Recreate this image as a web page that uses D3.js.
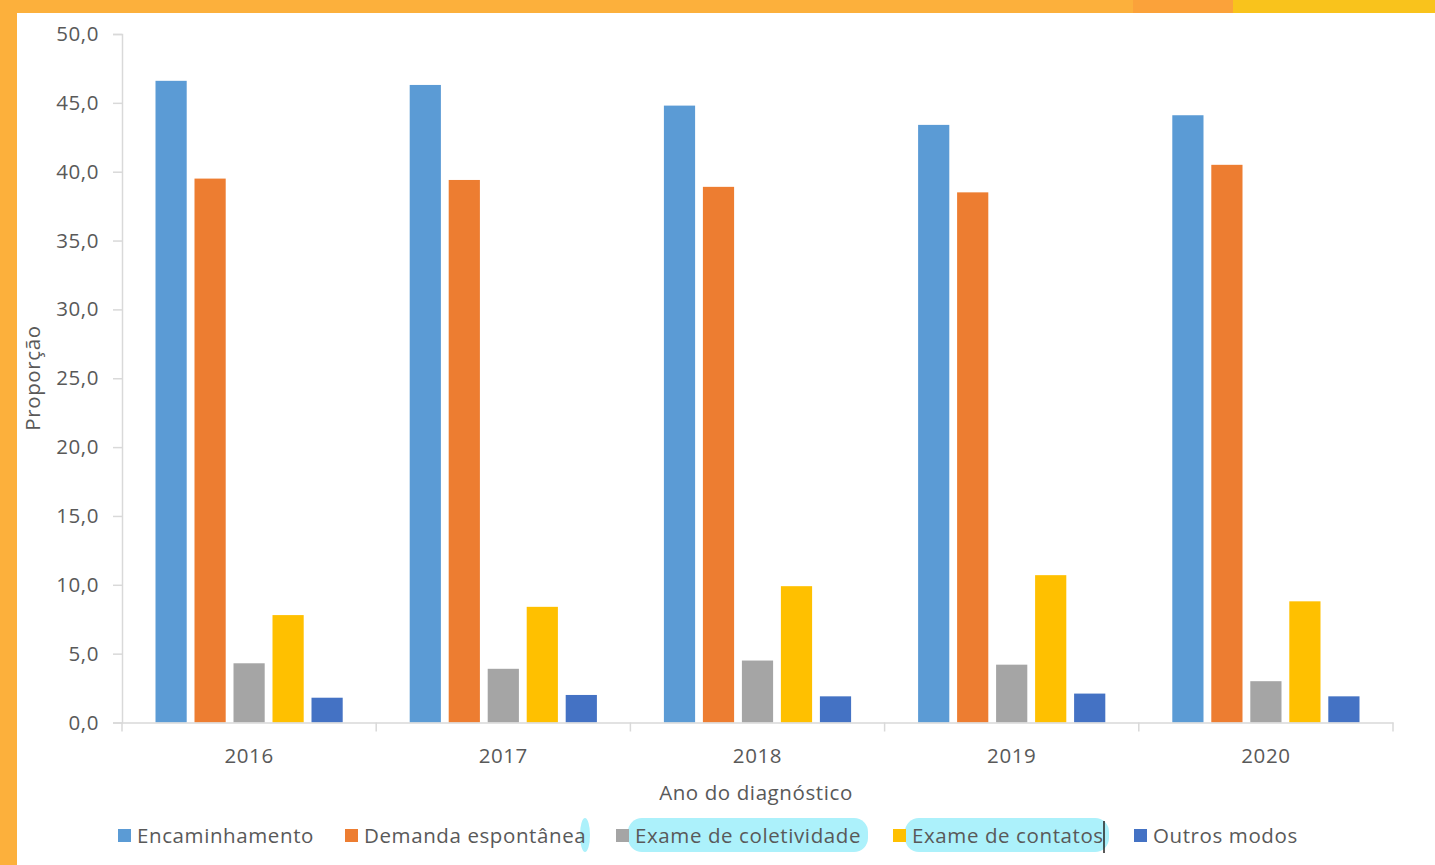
<!DOCTYPE html>
<html>
<head>
<meta charset="utf-8">
<script src="https://cdn.jsdelivr.net/npm/d3@7"></script>
<style>
  body { margin: 0; background: #fff; }
  svg text { font-family: "Open Sans", sans-serif; fill: #595959; font-size: 20.5px; letter-spacing: 0.6px; font-weight: 500; }
</style>
</head>
<body>
<span></span>
<script>
let width = 1435;
let height = 865;

// dados
let years = ["2016", "2017", "2018", "2019", "2020"];
let series = ["Encaminhamento", "Demanda espontânea", "Exame de coletividade", "Exame de contatos", "Outros modos"];
let encaminhamento = [46.6, 46.3, 44.8, 43.4, 44.1];
let demanda = [39.5, 39.4, 38.9, 38.5, 40.5];
let coletividade = [4.3, 3.9, 4.5, 4.2, 3.0];
let contatos = [7.8, 8.4, 9.9, 10.7, 8.8];
let outros = [1.8, 2.0, 1.9, 2.1, 1.9];
let yTicks = [0, 5, 10, 15, 20, 25, 30, 35, 40, 45, 50];
let colors = ["#5B9BD5", "#ED7D31", "#A5A5A5", "#FFC000", "#4472C4"];

let values = [encaminhamento, demanda, coletividade, contatos, outros];

let svg = d3.select("span")
    .append("svg")
    .attr("width", width)
    .attr("height", height)
    .style("display", "block");

// moldura laranja
svg.append("rect").attr("x", 0).attr("y", 0).attr("width", width).attr("height", 13).attr("fill", "#FCB03C");
svg.append("rect").attr("x", 1133).attr("y", 0).attr("width", 100).attr("height", 13).attr("fill", "#FBA23A");
svg.append("rect").attr("x", 1233).attr("y", 0).attr("width", 202).attr("height", 13).attr("fill", "#F9C31C");
svg.append("rect").attr("x", 0).attr("y", 0).attr("width", 17).attr("height", height).attr("fill", "#FCB03C");

let plotLeft = 122, plotRight = 1393, plotTop = 34, plotBottom = 722.5;

let x0 = d3.scaleBand().domain(years).range([plotLeft, plotRight]).padding(0);
let x1 = d3.scaleBand().domain(series)
    .range([33.5, x0.bandwidth() - 33.5])
    .paddingInner(0.2).paddingOuter(0);
let y = d3.scaleLinear().domain([0, 50]).range([plotBottom, plotTop]);

// eixo y
let yAxis = svg.append("g")
    .attr("transform", "translate(" + plotLeft + ",0)")
    .call(d3.axisLeft(y).tickValues(yTicks).tickSize(9).tickPadding(14)
        .tickFormat(d => d3.format(".1f")(d).replace(".", ",")));
yAxis.attr("font-family", null).attr("font-size", null);
yAxis.select(".domain").attr("stroke", "#D9D9D9").attr("stroke-width", 1.5);
yAxis.selectAll(".tick line").attr("stroke", "#D9D9D9").attr("stroke-width", 1.5);
yAxis.selectAll(".tick text").attr("fill", "#595959");

// barras
let groups = svg.append("g").selectAll("g")
    .data(years)
    .join("g")
    .attr("transform", d => "translate(" + x0(d) + ",0)");

groups.selectAll("rect")
    .data((d, i) => series.map((s, j) => ({ s: s, v: values[j][i], c: colors[j] })))
    .join("rect")
    .attr("x", d => x1(d.s))
    .attr("y", d => y(d.v))
    .attr("width", x1.bandwidth())
    .attr("height", d => y(0) - y(d.v))
    .attr("fill", d => d.c);

// eixo x
let xAxis = svg.append("g")
    .attr("transform", "translate(0," + plotBottom + ")")
    .call(d3.axisBottom(x0).tickSize(0).tickPadding(26));
xAxis.attr("font-family", null).attr("font-size", null);
xAxis.select(".domain").attr("stroke", "#D9D9D9").attr("stroke-width", 1.5);
xAxis.selectAll(".tick text").attr("fill", "#595959");

let bounds = years.map(d => x0(d)).concat([plotRight]);
svg.append("g").selectAll("line")
    .data(bounds)
    .join("line")
    .attr("x1", d => d).attr("x2", d => d)
    .attr("y1", plotBottom).attr("y2", plotBottom + 9)
    .attr("stroke", "#D9D9D9").attr("stroke-width", 1.5);

// títulos
svg.append("text")
    .attr("x", 756).attr("y", 800)
    .attr("text-anchor", "middle")
    .text("Ano do diagnóstico");

svg.append("text")
    .attr("transform", "translate(40,378) rotate(-90)")
    .attr("text-anchor", "middle")
    .text("Proporção");

// realces de seleção
let hl = svg.append("g");
hl.append("ellipse").attr("cx", 585).attr("cy", 835).attr("rx", 5).attr("ry", 17).attr("fill", "#ACF1FB");
hl.append("rect").attr("x", 628).attr("y", 818).attr("width", 240).attr("height", 34).attr("rx", 14).attr("fill", "#ACF1FB");
hl.append("rect").attr("x", 905).attr("y", 818).attr("width", 204).attr("height", 34).attr("rx", 14).attr("fill", "#ACF1FB");

// legenda
let legendX = [118, 345, 616, 893, 1134];
let legend = svg.append("g").selectAll("g")
    .data(series)
    .join("g")
    .attr("transform", (d, i) => "translate(" + legendX[i] + ",829)");
legend.append("rect")
    .attr("width", 13).attr("height", 13)
    .attr("fill", (d, i) => colors[i]);
legend.append("text")
    .attr("x", 19).attr("y", 14)
    .text(d => d);

svg.append("line").attr("x1", 1104).attr("x2", 1104).attr("y1", 821).attr("y2", 853)
    .attr("stroke", "#222").attr("stroke-width", 1.5);
</script>
</body>
</html>
